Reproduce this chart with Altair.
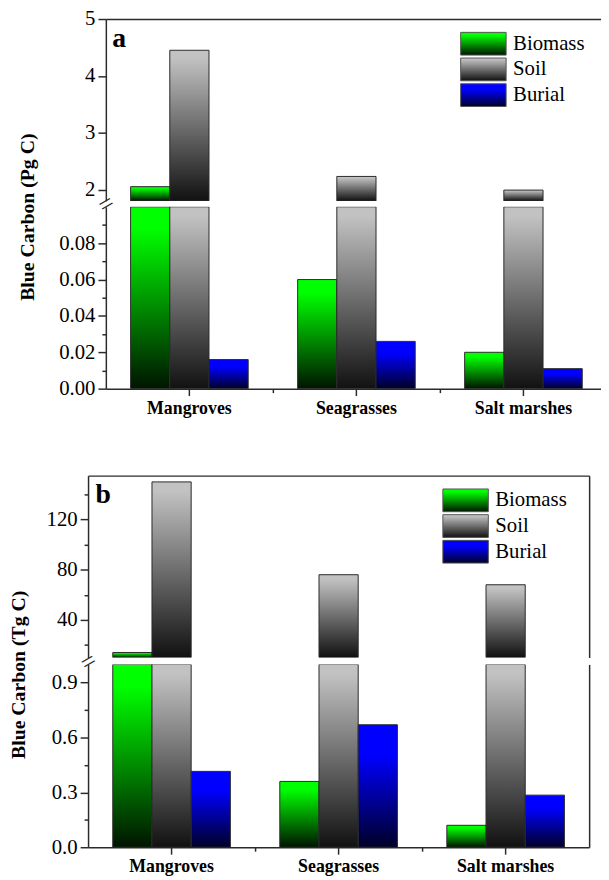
import altair as alt
import pandas as pd

categories = ["Mangroves", "Seagrasses", "Salt marshes"]
pools = ["Biomass", "Soil", "Burial"]

# Panel a (Pg C)
biomass_a = [2.05, 0.06, 0.02]
soil_a = [4.45, 2.23, 1.99]
burial_a = [0.016, 0.026, 0.011]

# Panel b (Tg C)
biomass_b = [14, 0.36, 0.12]
soil_b = [150, 76, 68]
burial_b = [0.415, 0.67, 0.285]

# axis ticks (major = labelled, minor = short unlabelled)
a_upper_major = [2, 3, 4, 5]
a_upper_minor = [2.5, 3.5, 4.5]
a_lower_major = [0, 0.02, 0.04, 0.06, 0.08]
a_lower_minor = [0.01, 0.03, 0.05, 0.07, 0.09]
b_upper_major = [40, 80, 120]
b_upper_minor = [20, 60, 100, 140]
b_lower_major = [0, 0.3, 0.6, 0.9]
b_lower_minor = [0.15, 0.45, 0.75]

SERIF = "Liberation Serif"
INK = "#2b2b2b"


def make_df(b, s, u):
    rows = []
    for i, c in enumerate(categories):
        for p, vals in zip(pools, (b, s, u)):
            rows.append({"Habitat": c, "Pool": p, "value": vals[i]})
    return pd.DataFrame(rows)


def gradient(top, hold, bottom):
    return {"expr": "{gradient: 'linear', x1: 0, y1: 0, x2: 0, y2: 1, stops: ["
                    f"{{offset: 0, color: '{top}'}}, {{offset: {hold}, color: '{top}'}}, "
                    f"{{offset: 1, color: '{bottom}'}}]}}"}


def fill_scale():
    return alt.Scale(domain=pools, range=[gradient("#00ff00", 0.12, "#001400"),
                                          gradient("#c2c2c2", 0.05, "#111111"),
                                          gradient("#0000ff", 0.25, "#000028")])


def legend(x, y):
    return alt.Legend(title=None, orient="none", legendX=x, legendY=y,
                      symbolType="M-2,-1H2V1H-2Z", symbolSize=529,
                      symbolStrokeColor="#555555", symbolStrokeWidth=1, symbolOpacity=1,
                      labelFont=SERIF, labelFontSize=21, labelColor="black",
                      labelOffset=18, rowPadding={"expr": "-2"}, padding=0)


def y_axis(major, minor, fmt, shift, title=None, title_x=0, title_y=0):
    vals = sorted(major + minor)
    test = f"indexof({major}, datum.value) >= 0"
    kw = dict(values=vals, format=fmt, labelExpr=f"{test} ? datum.label : ''",
              tickSize={"condition": {"test": test, "value": 8}, "value": 4},
              tickColor=INK, tickWidth=1.5, domainColor=INK, domainWidth=1.5,
              labelFont=SERIF, labelFontSize=21, labelColor="black", labelPadding=3,
              labelOverlap=False, labelFlush=False, grid=False, offset=shift)
    if title:
        kw.update(title=title, titleX=title_x, titleY=title_y, titleAngle=270,
                  titleAlign="center", titleBaseline="middle", titleFont=SERIF,
                  titleFontSize=20, titleFontWeight="bold", titleColor="black")
    else:
        kw["title"] = None
    return alt.Axis(**kw)


def right_frame():
    return alt.Axis(orient="right", labels=False, ticks=False, domain=True,
                    domainColor=INK, domainWidth=1.5, title=None, grid=False)


def break_axis(top_value, shift):
    # the "//" axis-break sign drawn as a rotated "=" label on the axis line
    return alt.Axis(orient="left", values=[top_value], labelExpr="'='", ticks=False,
                    tickSize=0, domain=False, labelAngle=330, labelAlign="center",
                    labelBaseline="middle", labelPadding=0, labelOffset=-3,
                    labelFont=SERIF, labelFontSize=26, labelColor=INK, offset=shift,
                    title=None, grid=False, labelFlush=False, labelOverlap=False)


def upper(df, dom, major, minor, fmt, xscale, shift, dash, letter, lx, ly, lgx, lgy, frame_right):
    base = alt.Chart(df).transform_filter(f"datum.value > {dom[0]}")
    yscale = alt.Scale(domain=dom, clamp=True, nice=False, zero=False)
    top_kw = dict(orient="top", labels=False, ticks=False, domain=True,
                  domainColor=INK, domainWidth=1.5,
                  title=letter, titleX=lx, titleY=ly, titleAngle=0,
                  titleAlign="left", titleBaseline="alphabetic",
                  titleFont=SERIF, titleFontSize=28, titleFontWeight="bold",
                  titleColor="black")
    if dash:
        top_kw["domainDash"] = dash
    bars = base.mark_bar(stroke=INK, strokeWidth=1, clip=True).encode(
        x=alt.X("Habitat:N", sort=categories, scale=xscale, axis=alt.Axis(**top_kw)),
        xOffset=alt.XOffset("Pool:N", sort=pools,
                            scale=alt.Scale(domain=pools, paddingInner=0, paddingOuter=0)),
        y=alt.Y("value:Q", scale=yscale, axis=y_axis(major, minor, fmt, shift)),
        fill=alt.Fill("Pool:N", scale=fill_scale(), legend=legend(lgx, lgy)),
    )
    layers = [bars]
    if frame_right:
        layers.append(base.mark_bar(opacity=0).encode(
            x=alt.X("Habitat:N", sort=categories, scale=xscale, axis=None),
            y=alt.Y("value:Q", scale=yscale, axis=right_frame()),
        ))
    return alt.layer(*layers).resolve_axis(x="independent", y="independent")


def lower(df, dom, major, minor, fmt, xscale, shift, dash, title, tx, ty, frame_right):
    base = alt.Chart(df)
    yscale = alt.Scale(domain=dom, clamp=True, nice=False, zero=False)
    bot_kw = dict(orient="bottom", title=None, labelAngle=0, domainColor=INK,
                  domainWidth=1.5, tickColor=INK, tickWidth=1.5,
                  tickSize=7, labelFont=SERIF, labelFontSize=18,
                  labelFontWeight="bold", labelColor="black", labelPadding=4)
    if dash:
        bot_kw["domainDash"] = dash
    bars = base.mark_bar(stroke=INK, strokeWidth=1, clip=True).encode(
        x=alt.X("Habitat:N", sort=categories, scale=xscale, axis=alt.Axis(**bot_kw)),
        xOffset=alt.XOffset("Pool:N", sort=pools,
                            scale=alt.Scale(domain=pools, paddingInner=0, paddingOuter=0)),
        y=alt.Y("value:Q", scale=yscale, axis=y_axis(major, minor, fmt, shift, title, tx, ty)),
        fill=alt.Fill("Pool:N", scale=fill_scale(), legend=None),
    )
    minor_x = base.mark_bar(opacity=0).encode(
        x=alt.X("Habitat:N", sort=categories, scale=xscale,
                axis=alt.Axis(orient="bottom", values=categories[:2], tickOffset=84.5,
                              tickSize=4, tickColor=INK, tickWidth=1.5, labels=False,
                              domain=False, title=None)),
        y=alt.Y("value:Q", scale=yscale, axis=right_frame() if frame_right else None),
    )
    brk = base.mark_bar(opacity=0).encode(
        x=alt.X("Habitat:N", sort=categories, scale=xscale, axis=None),
        y=alt.Y("value:Q", scale=yscale, axis=break_axis(dom[1], shift)),
    )
    return alt.layer(bars, minor_x, brk).resolve_axis(x="independent", y="independent")


df_a = make_df(biomass_a, soil_a, burial_a)
df_b = make_df(biomass_b, soil_b, burial_b)

# panel a: plot area starts 18 px left of its y axis (axis shifted right, frame dashed to match)
xscale_a = alt.Scale(domain=categories, paddingInner=0.296, paddingOuter=0.1835, align=0.694)
xscale_b = alt.Scale(domain=categories, paddingInner=0.296, paddingOuter=0.148)
dash_a = [0, 18, 10000]

up_a = upper(df_a, [1.8, 5], a_upper_major, a_upper_minor, "d", xscale_a, -18, dash_a,
             "a", 24, 28, 388, 13, False).properties(width=519, height=184)
lo_a = lower(df_a, [0, 0.1], a_lower_major, a_lower_minor, ".2f", xscale_a, -18, dash_a,
             "Blue Carbon (Pg C)", -79, 10, False).properties(width=519, height=184)
up_b = upper(df_b, [10, 155], b_upper_major, b_upper_minor, "d", xscale_b, 0, None,
             "b", 7, 27, 370, 13, True).properties(width=507, height=184)
lo_b = lower(df_b, [0, 1.0], b_lower_major, b_lower_minor, ".1f", xscale_b, 0, None,
             "Blue Carbon (Tg C)", -70, 10, True).properties(width=507, height=185)

panel_a = alt.vconcat(up_a, lo_a, spacing=6, bounds="flush").resolve_scale(
    fill="independent").resolve_legend(fill="independent")
panel_b = alt.vconcat(up_b, lo_b, spacing=7, bounds="flush").resolve_scale(
    fill="independent").resolve_legend(fill="independent")

chart = alt.vconcat(panel_a, panel_b, spacing=59).properties(
    padding={"left": 0, "top": -5, "right": 0, "bottom": 0}
).resolve_scale(fill="independent").resolve_legend(fill="independent").configure_view(
    stroke=None).configure_axis(grid=False)

chart.save("out.html", embed_options={"renderer": "svg", "actions": False})
